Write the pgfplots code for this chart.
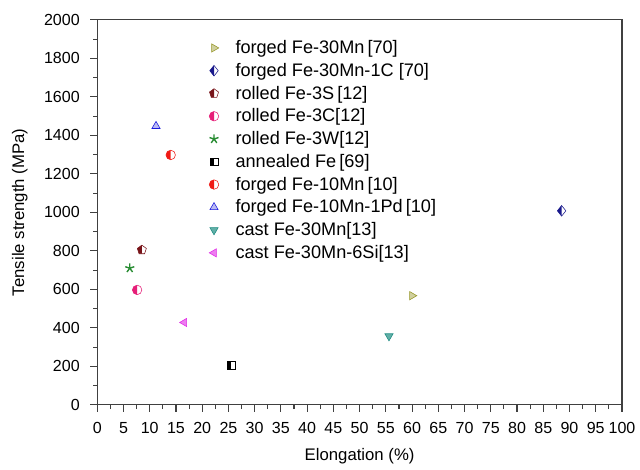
\documentclass[border=0pt]{standalone}
\usepackage{pgfplots}
\pgfplotsset{compat=1.18}
\usepackage{fontspec}
\setmainfont{Liberation Sans}

\definecolor{cOlive}{RGB}{150,150,40}
\definecolor{cNavy}{RGB}{25,25,140}
\definecolor{cDred}{RGB}{120,20,25}
\definecolor{cPink}{RGB}{230,30,120}
\definecolor{cGreen}{RGB}{40,140,50}
\definecolor{cRed}{RGB}{240,25,20}
\definecolor{cBlue}{RGB}{25,25,220}
\definecolor{cTeal}{RGB}{30,140,130}
\definecolor{cMag}{RGB}{225,40,230}

% half-filled marks: left half in the fill colour, right half white
\pgfdeclareplotmark{lsquare}{%
  \begin{pgfscope}\pgfsetfillcolor{white}%
  \pgfpathrectangle{\pgfqpoint{-\pgfplotmarksize}{-\pgfplotmarksize}}{\pgfqpoint{2\pgfplotmarksize}{2\pgfplotmarksize}}%
  \pgfusepathqfill\end{pgfscope}%
  \pgfpathrectangle{\pgfqpoint{-\pgfplotmarksize}{-\pgfplotmarksize}}{\pgfqpoint{\pgfplotmarksize}{2\pgfplotmarksize}}%
  \pgfusepathqfill
  \pgfpathrectangle{\pgfqpoint{-\pgfplotmarksize}{-\pgfplotmarksize}}{\pgfqpoint{2\pgfplotmarksize}{2\pgfplotmarksize}}%
  \pgfusepathqstroke}
\pgfdeclareplotmark{lcircle}{%
  \begin{pgfscope}\pgfsetfillcolor{white}%
  \pgfpathcircle{\pgfpointorigin}{\pgfplotmarksize}\pgfusepathqfill\end{pgfscope}%
  \pgfpathmoveto{\pgfqpoint{0pt}{\pgfplotmarksize}}%
  \pgfpatharc{90}{270}{\pgfplotmarksize}\pgfpathclose\pgfusepathqfill
  \pgfpathcircle{\pgfpointorigin}{\pgfplotmarksize}\pgfusepathqstroke}
\pgfdeclareplotmark{ldiamond}{%
  \begin{pgfscope}\pgfsetfillcolor{white}%
  \pgfpathmoveto{\pgfqpoint{0pt}{\pgfplotmarksize}}%
  \pgfpathlineto{\pgfqpoint{-.8\pgfplotmarksize}{0pt}}%
  \pgfpathlineto{\pgfqpoint{0pt}{-\pgfplotmarksize}}%
  \pgfpathlineto{\pgfqpoint{.8\pgfplotmarksize}{0pt}}\pgfpathclose
  \pgfusepathqfill\end{pgfscope}%
  \pgfpathmoveto{\pgfqpoint{0pt}{\pgfplotmarksize}}%
  \pgfpathlineto{\pgfqpoint{-.8\pgfplotmarksize}{0pt}}%
  \pgfpathlineto{\pgfqpoint{0pt}{-\pgfplotmarksize}}\pgfpathclose
  \pgfusepathqfill
  \pgfpathmoveto{\pgfqpoint{0pt}{\pgfplotmarksize}}%
  \pgfpathlineto{\pgfqpoint{-.8\pgfplotmarksize}{0pt}}%
  \pgfpathlineto{\pgfqpoint{0pt}{-\pgfplotmarksize}}%
  \pgfpathlineto{\pgfqpoint{.8\pgfplotmarksize}{0pt}}\pgfpathclose
  \pgfusepathqstroke}
\pgfdeclareplotmark{lpentagon}{%
  \begin{pgfscope}\pgfsetfillcolor{white}%
  \pgfpathmoveto{\pgfqpoint{0pt}{\pgfplotmarksize}}%
  \pgfpathlineto{\pgfqpoint{-.951\pgfplotmarksize}{.309\pgfplotmarksize}}%
  \pgfpathlineto{\pgfqpoint{-.588\pgfplotmarksize}{-.809\pgfplotmarksize}}%
  \pgfpathlineto{\pgfqpoint{.588\pgfplotmarksize}{-.809\pgfplotmarksize}}%
  \pgfpathlineto{\pgfqpoint{.951\pgfplotmarksize}{.309\pgfplotmarksize}}\pgfpathclose
  \pgfusepathqfill\end{pgfscope}%
  \pgfpathmoveto{\pgfqpoint{0pt}{\pgfplotmarksize}}%
  \pgfpathlineto{\pgfqpoint{-.951\pgfplotmarksize}{.309\pgfplotmarksize}}%
  \pgfpathlineto{\pgfqpoint{-.588\pgfplotmarksize}{-.809\pgfplotmarksize}}%
  \pgfpathlineto{\pgfqpoint{0pt}{-.809\pgfplotmarksize}}\pgfpathclose
  \pgfusepathqfill
  \pgfpathmoveto{\pgfqpoint{0pt}{\pgfplotmarksize}}%
  \pgfpathlineto{\pgfqpoint{-.951\pgfplotmarksize}{.309\pgfplotmarksize}}%
  \pgfpathlineto{\pgfqpoint{-.588\pgfplotmarksize}{-.809\pgfplotmarksize}}%
  \pgfpathlineto{\pgfqpoint{.588\pgfplotmarksize}{-.809\pgfplotmarksize}}%
  \pgfpathlineto{\pgfqpoint{.951\pgfplotmarksize}{.309\pgfplotmarksize}}\pgfpathclose
  \pgfusepathqstroke}

\begin{document}
\begin{tikzpicture}
\begin{axis}[
    scale only axis,
    width=13.22cm, height=9.7cm,
    xmin=0, xmax=100, ymin=0, ymax=2000,
    xtick distance=5, ytick distance=200,
    minor x tick num=1, minor y tick num=1,
    tick align=outside,
    xtick pos=bottom, ytick pos=left,
    major tick length=5pt, minor tick length=3pt,
    axis line style={line width=0.9pt, black!75},
    tick style={line width=0.8pt, black!75},
    /pgf/number format/assume math mode=true,
    /pgf/number format/1000 sep={},
    ticklabel style={font=\fontsize{11.5}{13}\selectfont},
    xticklabel style={yshift=-4pt},
    yticklabel style={xshift=-4pt},
    xlabel={Elongation (\%)},
    ylabel={Tensile strength (MPa)},
    label style={font=\fontsize{12}{14}\selectfont},
    xlabel style={yshift=-4pt},
    ylabel style={yshift=5pt},
    legend cell align=left,
    legend style={draw=none, fill=none, at={(0.205,0.962)}, anchor=north west,
        font=\fontsize{13}{15}\selectfont, row sep=1.4pt, column sep=10pt},
    only marks,
    mark size=3.4pt,
]
\addplot[cOlive, mark=triangle*, mark options={rotate=-90, fill=cOlive!45}] coordinates {(60,567)};
\addlegendentry{forged Fe-30Mn\,[70]}
\addplot[cNavy, mark=ldiamond, mark size=3.8pt, mark options={fill=cNavy}] coordinates {(88.5,1008)};
\addlegendentry{forged Fe-30Mn-1C [70]}
\addplot[cDred, mark=lpentagon, mark options={fill=cDred}] coordinates {(8.5,805)};
\addlegendentry{rolled Fe-3S\,[12]}
\addplot[cPink, mark=lcircle, mark options={fill=cPink}] coordinates {(7.6,597)};
\addlegendentry{rolled Fe-3C[12]}
\addplot[cGreen, mark=star, mark options={line width=1pt}] coordinates {(6.2,710)};
\addlegendentry{rolled Fe-3W[12]}
\addplot[black, mark=lsquare, mark size=2.8pt, mark options={fill=black}] coordinates {(25.5,205)};
\addlegendentry{annealed Fe\,[69]}
\addplot[cRed, mark=lcircle, mark options={fill=cRed}] coordinates {(14,1298)};
\addlegendentry{forged Fe-10Mn\,[10]}
\addplot[cBlue, mark=triangle*, mark options={fill=cBlue!30}] coordinates {(11.2,1448)};
\addlegendentry{forged Fe-10Mn-1Pd\,[10]}
\addplot[cTeal, mark=triangle*, mark options={rotate=180, fill=cTeal!70}] coordinates {(55.6,357)};
\addlegendentry{cast Fe-30Mn[13]}
\addplot[cMag, mark=triangle*, mark options={rotate=90, fill=cMag!60}] coordinates {(16.6,428)};
\addlegendentry{cast Fe-30Mn-6Si[13]}
\end{axis}
\path ([xshift=-2.45cm,yshift=-1.55cm]current axis.south west) rectangle ([xshift=0.35cm,yshift=0.5cm]current axis.north east);
\end{tikzpicture}
\end{document}
